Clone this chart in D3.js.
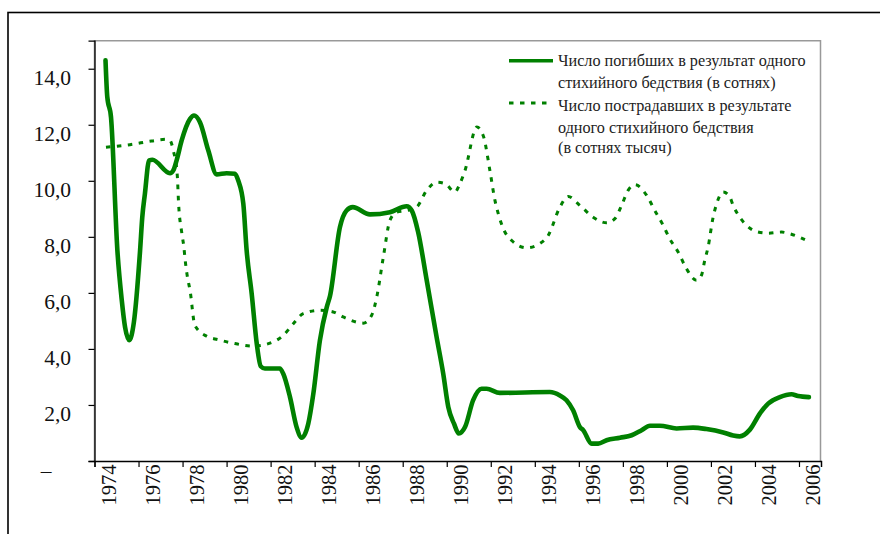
<!DOCTYPE html>
<html>
<head>
<meta charset="utf-8">
<script src="https://cdn.jsdelivr.net/npm/d3@7/dist/d3.min.js"></script>
<style>
  html, body { margin: 0; padding: 0; background: #fff; }
  svg { display: block; }
</style>
</head>
<body>
<svg id="chart" width="880" height="534" font-family="'Liberation Serif', 'DejaVu Serif', serif"></svg>
<script>
// ---- Data ----
const yearLabels = ["1974","1976","1978","1980","1982","1984","1986","1988","1990",
  "1992","1994","1996","1998","2000","2002","2004","2006"];
const yTickValues = [0, 2, 4, 6, 8, 10, 12, 14];
const yTickLabels = ["–", "2,0", "4,0", "6,0", "8,0", "10,0", "12,0", "14,0"];

const seriesNames = [
  ["Число погибших в результат одного", "стихийного бедствия (в сотнях)"],
  ["Число пострадавших в результате", "одного стихийного бедствия", "(в сотнях тысяч)"]
];

// Deaths per disaster (hundreds) — positions along time axis
const deathYears = [1974.0,1974.08,1974.25,1974.54,1974.74,1974.89,1975.08,1975.29,1975.57,1975.67,1975.79,
  1975.98,1976.13,1976.93,1977.08,1977.23,1977.46,1977.84,1978.02,1978.29,1978.67,1979.05,1979.5,1979.88,
  1980.03,1980.26,1980.41,1980.64,1980.87,1981.05,1981.24,1981.92,1982.07,1982.38,1982.68,1982.91,1983.21,
  1983.44,1983.74,1984.05,1984.2,1984.65,1984.95,1985.23,1986.01,1986.92,1987.68,1987.91,1988.2,1988.59,
  1989.04,1989.34,1989.57,1989.83,1990.05,1990.33,1990.7,1991.08,1991.31,1991.91,1994.18,1994.64,1994.94,
  1995.24,1995.55,1995.7,1996.08,1996.38,1996.76,1997.37,1997.9,1998.35,1998.73,1999.18,1999.94,2000.69,
  2001.3,2002.06,2002.51,2002.81,2003.27,2003.72,2004.1,2004.63,2005.16,2005.46,2005.95];
const deathValues = [14.3,13.0,12.27,7.51,5.73,4.77,4.31,4.96,7.51,8.7,9.54,
  10.73,10.75,10.27,10.37,10.73,11.44,12.21,12.33,12.09,11.08,10.23,10.27,10.25,
  10.01,9.18,7.52,5.97,4.19,3.38,3.30,3.30,3.12,2.28,1.21,0.83,1.33,
  2.40,4.31,5.49,5.9,8.35,8.94,9.06,8.80,8.88,9.09,8.94,8.17,6.45,
  4.42,3.12,1.93,1.33,0.98,1.21,2.17,2.58,2.58,2.43,2.46,2.34,2.17,
  1.81,1.21,1.10,0.62,0.62,0.74,0.83,0.92,1.10,1.26,1.26,1.16,1.19,
  1.14,1.02,0.91,0.88,1.12,1.69,2.05,2.28,2.38,2.32,2.28];

// Affected per disaster (hundreds of thousands)
const affectedYears = [1974.02,1975.11,1976.1,1976.75,1976.93,1977.08,1977.26,1977.32,1977.46,1977.56,1977.62,
  1977.71,1977.84,1978.06,1978.6,1979.12,1979.88,1980.71,1981.7,1982.07,1982.53,1982.98,1983.74,1984.34,
  1984.8,1985.71,1986.09,1986.32,1986.62,1986.92,1987.22,1987.68,1988.13,1988.59,1989.04,1989.42,1989.87,
  1990.1,1990.33,1990.87,1991.17,1991.46,1991.69,1991.84,1992.07,1992.45,1993.13,1993.73,1994.11,1994.64,
  1995.02,1995.55,1996.15,1996.76,1997.14,1997.44,1997.74,1998.05,1998.58,1998.95,1999.33,1999.63,2000.01,
  2000.39,2000.84,2001.07,2001.22,2001.37,2001.6,2001.76,2002.06,2002.36,2002.51,2002.81,2003.12,2003.64,
  2004.1,2004.71,2005.08,2005.77];
const affectedValues = [11.20,11.29,11.42,11.48,11.44,11.08,10.19,9.18,8.17,7.63,7.16,
  6.62,6.09,4.84,4.45,4.33,4.19,4.10,4.28,4.48,4.90,5.26,5.38,5.32,
  5.14,4.92,5.20,5.85,7.28,8.59,8.88,8.94,9.06,9.66,9.95,9.90,9.60,
  9.90,10.37,11.92,11.58,10.37,9.30,8.83,8.29,7.87,7.61,7.76,8.05,9.06,
  9.44,9.12,8.70,8.50,8.65,9.12,9.66,9.86,9.48,8.94,8.41,7.93,7.46,
  6.86,6.45,6.63,7.16,7.63,8.70,9.18,9.60,9.42,9.12,8.70,8.41,8.17,
  8.13,8.17,8.11,7.90];

// ---- Layout ----
const svg = d3.select("#chart");
const plot = { left: 94.5, right: 820.5, top: 40.7, bottom: 461 };
const green = "#008000";
const serif = "'Liberation Serif', 'DejaVu Serif', serif";

const x = d3.scaleLinear().domain([1973.5, 2006.5]).range([plot.left, plot.right + 0.5]);
const y = d3.scaleLinear().domain([0, 15]).range([plot.bottom, plot.top]);

// outer frame
svg.append("rect").attr("x", 8).attr("y", 12.5).attr("width", 900).attr("height", 600)
  .attr("fill", "none").attr("stroke", "#000").attr("stroke-width", 1.6);

// plot area border (grey)
svg.append("path")
  .attr("d", `M${plot.left},${plot.bottom} V${plot.top} H${plot.right} V${plot.bottom}`)
  .attr("fill", "none").attr("stroke", "#999").attr("stroke-width", 1.5);

// Y axis
const yAxis = d3.axisLeft(y).tickValues(yTickValues).tickSize(6).tickFormat(() => "");
const gy = svg.append("g").attr("transform", `translate(${plot.left},0)`).call(yAxis);
gy.select(".domain").attr("stroke", "#000").attr("stroke-width", 1.3);
gy.selectAll(".tick line").attr("stroke", "#000").attr("stroke-width", 1.2);
yTickValues.forEach((v, i) => {
  const t = svg.append("text")
    .attr("y", y(v) + 9).attr("dy", "0.35em")
    .attr("font-family", serif)
    .attr("font-size", 21.5).attr("fill", "#111")
    .text(yTickLabels[i]);
  if (v === 0) t.attr("x", 46).attr("text-anchor", "middle");
  else t.attr("x", 71).attr("text-anchor", "end");
});

// X axis (ticks every two years, between categories)
const xTickVals = d3.range(0, 17).map(k => 1973.5 + 2 * k).concat([2006.5]);
const xAxis = d3.axisBottom(x).tickValues(xTickVals).tickSize(6).tickFormat(() => "");
const gx = svg.append("g").attr("transform", `translate(0,${plot.bottom})`).call(xAxis);
gx.select(".domain").attr("stroke", "#000").attr("stroke-width", 1.3);
gx.selectAll(".tick line").attr("stroke", "#000").attr("stroke-width", 1.2);
yearLabels.forEach(lbl => {
  const cx = x(+lbl) + 3;
  svg.append("text")
    .attr("transform", `translate(${cx},${plot.bottom + 3.5}) rotate(-90)`)
    .attr("text-anchor", "end").attr("dy", "0.35em")
    .attr("font-family", serif)
    .attr("font-size", 20.5).attr("fill", "#111")
    .text(lbl);
});

// Lines
const line = d3.line().x(d => x(d[0])).y(d => y(d[1])).curve(d3.curveMonotoneX);
const affectedData = affectedYears.map((yr, i) => [yr, affectedValues[i]]);
const deathData = deathYears.map((yr, i) => [yr, deathValues[i]]);

svg.append("path").datum(affectedData)
  .attr("d", line).attr("fill", "none").attr("stroke", green)
  .attr("stroke-width", 3).attr("stroke-dasharray", "4.5 6.5");

svg.append("path").datum(deathData)
  .attr("d", line).attr("fill", "none").attr("stroke", green)
  .attr("stroke-width", 4.6).attr("stroke-linejoin", "round").attr("stroke-linecap", "round");

// Legend
const lg = svg.append("g");
lg.append("line").attr("x1", 509).attr("x2", 553).attr("y1", 60.7).attr("y2", 60.7)
  .attr("stroke", green).attr("stroke-width", 3.5);
lg.append("line").attr("x1", 509).attr("x2", 553).attr("y1", 103).attr("y2", 103)
  .attr("stroke", green).attr("stroke-width", 3).attr("stroke-dasharray", "4.5 6.5");
const lines = seriesNames[0].concat(seriesNames[1]);
const baselines = [66.3, 88.3, 110.8, 132.5, 153];
lines.forEach((s, i) => {
  lg.append("text").attr("x", 558).attr("y", baselines[i])
    .attr("font-family", serif)
    .attr("font-size", 16.2).attr("fill", "#222").text(s);
});
</script>
</body>
</html>
